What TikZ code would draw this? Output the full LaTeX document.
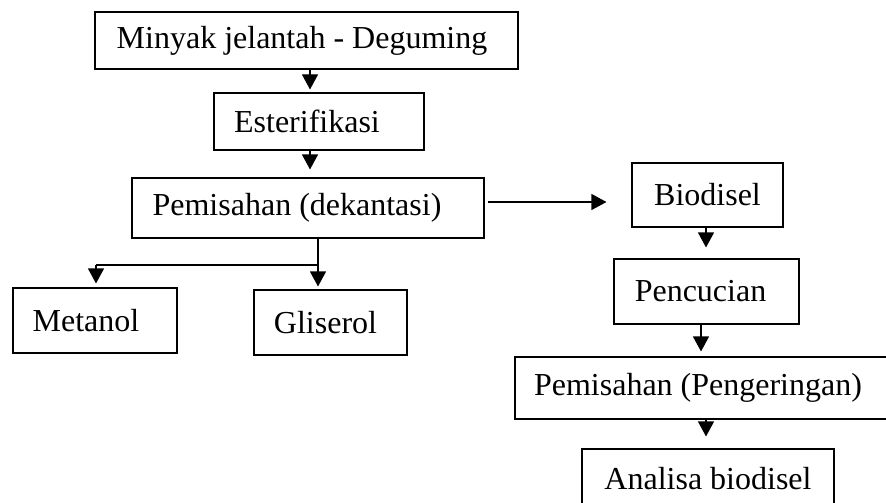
\documentclass[tikz,border=0pt]{standalone}
\usepackage{fontspec}
\setmainfont{Liberation Serif}
\usetikzlibrary{arrows.meta}

\begin{document}
\begin{tikzpicture}[x=1pt,y=-1pt,
  box/.style={draw,line width=1.1pt,inner sep=0pt,font=\fontsize{32}{38}\selectfont},
  flow/.style={line width=1.1pt,-{Triangle[length=15pt,width=16pt]}},
  link/.style={line width=1.1pt}]
  \useasboundingbox (0,0) rectangle (886,503);
  \clip (0,0) rectangle (886,503);

  \node[box,minimum width=423pt,minimum height=57pt] (deguming) at (306.5,40.5) {Minyak jelantah - Deguming\hspace*{9pt}};
  \node[box,minimum width=210pt,minimum height=57pt] (ester) at (319,121.5) {Esterifikasi\hspace*{24pt}};
  \node[box,minimum width=352pt,minimum height=60pt] (dekantasi) at (308,208) {Pemisahan (dekantasi)\hspace*{22pt}};
  \node[box,minimum width=164pt,minimum height=65pt] (metanol) at (95,320.5) {Metanol\hspace*{18pt}};
  \node[box,minimum width=153pt,minimum height=65pt] (gliserol) at (330.5,322.5) {Gliserol\hspace*{10pt}};

  \node[box,minimum width=151pt,minimum height=64pt] (biodisel) at (707.5,195) {Biodisel};
  \node[box,minimum width=185pt,minimum height=65pt] (pencucian) at (706.5,291.5) {Pencucian\hspace*{12pt}};
  \node[box,minimum width=377pt,minimum height=62pt] (pengeringan) at (703.5,388) {Pemisahan (Pengeringan)\hspace*{11pt}};
  \node[box,minimum width=252pt,minimum height=60pt] (analisa) at (708,479) {Analisa biodisel};

  % left column
  \draw[flow] (deguming.south -| 310,0) -- ([yshift=3pt]ester.north -| 310,0);
  \draw[flow] (ester.south -| 310,0) -- ([yshift=8pt]dekantasi.north -| 310,0);

  % split into metanol and gliserol
  \coordinate (split) at (318,265);
  \coordinate (split left) at (96,265);
  \draw[link] (dekantasi.south -| split) -- (split) -- (split left);
  \draw[flow] (split left) -- ([yshift=4pt]metanol.north -| split left);
  \draw[flow] (split) -- ([yshift=3pt]gliserol.north -| split);

  % over to the biodisel column
  \draw[flow] ([xshift=3pt]dekantasi.east |- 0,202) -- ([xshift=-25pt]biodisel.west |- 0,202);

  % right column
  \draw[flow] (biodisel.south -| 706,0) -- ([yshift=11pt]pencucian.north -| 706,0);
  \draw[flow] (pencucian.south -| 701,0) -- ([yshift=5pt]pengeringan.north -| 701,0);
  \draw[flow] (pengeringan.south -| 706,0) -- ([yshift=12pt]analisa.north -| 706,0);
\end{tikzpicture}
\end{document}
